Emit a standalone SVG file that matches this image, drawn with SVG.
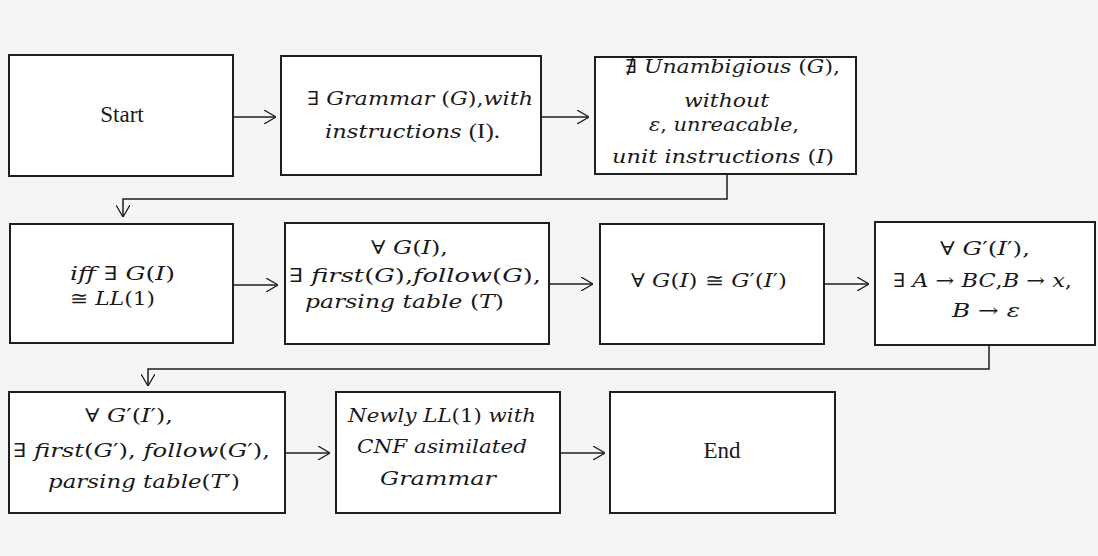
<svg xmlns="http://www.w3.org/2000/svg" width="1098" height="556" viewBox="0 0 1098 556">
<style>
.box{fill:#ffffff;stroke:#1e1e1e;stroke-width:2}
.con{fill:none;stroke:#1e1e1e;stroke-width:1.5}
.t{font-family:"Liberation Serif","Times New Roman",serif;font-size:23px;fill:#1a1a1a}
.m{font-family:"DejaVu Serif","Liberation Serif",serif;font-style:italic;font-size:19px;fill:#1a1a1a}
.u{font-style:normal}
.r{font-family:"Liberation Serif",serif;font-style:normal;font-size:21px}
</style>
<defs>
<marker id="ah" viewBox="0 0 12 14" refX="12" refY="7" markerWidth="12" markerHeight="14" markerUnits="userSpaceOnUse" orient="auto">
<path d="M0,0 L12,7 L0,14" fill="none" stroke="#1e1e1e" stroke-width="1.3"/>
</marker>
</defs>
<rect x="0" y="0" width="1098" height="556" fill="#f5f5f5"/>

<g id="connectors">
<line class="con" x1="233" y1="117" x2="276" y2="117" marker-end="url(#ah)"/>
<line class="con" x1="541" y1="117" x2="589" y2="117" marker-end="url(#ah)"/>
<path class="con" d="M727,174 V199 H123 V217" marker-end="url(#ah)"/>
<line class="con" x1="233" y1="285" x2="278" y2="285" marker-end="url(#ah)"/>
<line class="con" x1="549" y1="284" x2="593" y2="284" marker-end="url(#ah)"/>
<line class="con" x1="824" y1="284" x2="869" y2="284" marker-end="url(#ah)"/>
<path class="con" d="M989,345 V369 H148 V386" marker-end="url(#ah)"/>
<line class="con" x1="285" y1="453" x2="330" y2="453" marker-end="url(#ah)"/>
<line class="con" x1="560" y1="453" x2="605" y2="453" marker-end="url(#ah)"/>
</g>

<g id="start">
<rect class="box" x="9" y="55" width="224" height="121"/>
<text class="t" x="122" y="122" text-anchor="middle">Start</text>
</g>

<g id="grammar">
<rect class="box" x="281" y="56" width="260" height="119"/>
<text class="m" x="307" y="105" textLength="226" lengthAdjust="spacingAndGlyphs"><tspan class="u">∃ </tspan>Grammar <tspan class="u">(</tspan>G<tspan class="u">),</tspan>with</text>
<text class="m" x="325" y="138" textLength="175" lengthAdjust="spacingAndGlyphs">instructions <tspan class="r">(I).</tspan></text>
</g>

<g id="unambiguous">
<rect class="box" x="595" y="57" width="261" height="117"/>
<text class="m" x="625" y="73" textLength="215" lengthAdjust="spacingAndGlyphs"><tspan class="u">∄ </tspan>Unambigious <tspan class="u">(</tspan>G<tspan class="u">),</tspan></text>
<text class="m" x="684" y="107" textLength="85" lengthAdjust="spacingAndGlyphs">without</text>
<text class="m" x="649" y="131" textLength="150" lengthAdjust="spacingAndGlyphs">ε<tspan class="u">,</tspan> unreacable<tspan class="u">,</tspan></text>
<text class="m" x="612" y="163" textLength="222" lengthAdjust="spacingAndGlyphs">unit instructions <tspan class="u">(</tspan>I<tspan class="u">)</tspan></text>
</g>

<g id="ll1">
<rect class="box" x="10" y="224" width="223" height="119"/>
<text class="m" x="70" y="280" textLength="105" lengthAdjust="spacingAndGlyphs">iff <tspan class="u">∃ </tspan>G<tspan class="u">(</tspan>I<tspan class="u">)</tspan></text>
<text class="m" x="70" y="305" textLength="85" lengthAdjust="spacingAndGlyphs"><tspan class="u">≅ </tspan>LL<tspan class="u">(1)</tspan></text>
</g>

<g id="first-follow">
<rect class="box" x="285" y="223" width="264" height="121"/>
<text class="m" x="371" y="254" textLength="77" lengthAdjust="spacingAndGlyphs"><tspan class="u">∀ </tspan>G<tspan class="u">(</tspan>I<tspan class="u">),</tspan></text>
<text class="m" x="289" y="282" textLength="252" lengthAdjust="spacingAndGlyphs"><tspan class="u">∃ </tspan>first<tspan class="u">(</tspan>G<tspan class="u">),</tspan>follow<tspan class="u">(</tspan>G<tspan class="u">),</tspan></text>
<text class="m" x="305" y="308" textLength="199" lengthAdjust="spacingAndGlyphs">parsing table <tspan class="u">(</tspan>T<tspan class="u">)</tspan></text>
</g>

<g id="congruent">
<rect class="box" x="600" y="224" width="224" height="120"/>
<text class="m" x="631" y="287" textLength="156" lengthAdjust="spacingAndGlyphs"><tspan class="u">∀ </tspan>G<tspan class="u">(</tspan>I<tspan class="u">) ≅ </tspan>G<tspan class="u">′(</tspan>I<tspan class="u">′)</tspan></text>
</g>

<g id="cnf">
<rect class="box" x="875" y="222" width="220" height="123"/>
<text class="m" x="940" y="255" textLength="90" lengthAdjust="spacingAndGlyphs"><tspan class="u">∀ </tspan>G<tspan class="u">′(</tspan>I<tspan class="u">′),</tspan></text>
<text class="m" x="893" y="287" textLength="179" lengthAdjust="spacingAndGlyphs"><tspan class="u">∃ </tspan>A<tspan class="u"> → </tspan>BC<tspan class="u">,</tspan>B<tspan class="u"> → </tspan>x<tspan class="u">,</tspan></text>
<text class="m" x="952" y="317" textLength="68" lengthAdjust="spacingAndGlyphs">B<tspan class="u"> →  </tspan>ε</text>
</g>

<g id="first-follow-prime">
<rect class="box" x="9" y="392" width="276" height="121"/>
<text class="m" x="85" y="422" textLength="88" lengthAdjust="spacingAndGlyphs"><tspan class="u">∀ </tspan>G<tspan class="u">′(</tspan>I<tspan class="u">′),</tspan></text>
<text class="m" x="13" y="457" textLength="257" lengthAdjust="spacingAndGlyphs"><tspan class="u">∃ </tspan>first<tspan class="u">(</tspan>G<tspan class="u">′), </tspan>follow<tspan class="u">(</tspan>G<tspan class="u">′),</tspan></text>
<text class="m" x="48" y="488" textLength="192" lengthAdjust="spacingAndGlyphs">parsing table<tspan class="u">(</tspan>T<tspan class="u">′)</tspan></text>
</g>

<g id="newly">
<rect class="box" x="336" y="392" width="224" height="121"/>
<text class="m" x="348" y="422" textLength="188" lengthAdjust="spacingAndGlyphs">Newly LL<tspan class="u">(1)</tspan> with</text>
<text class="m" x="357" y="453" textLength="170" lengthAdjust="spacingAndGlyphs">CNF asimilated</text>
<text class="m" x="380" y="485" textLength="116" lengthAdjust="spacingAndGlyphs">Grammar</text>
</g>

<g id="end">
<rect class="box" x="610" y="392" width="225" height="121"/>
<text class="t" x="722" y="458" text-anchor="middle">End</text>
</g>
</svg>
